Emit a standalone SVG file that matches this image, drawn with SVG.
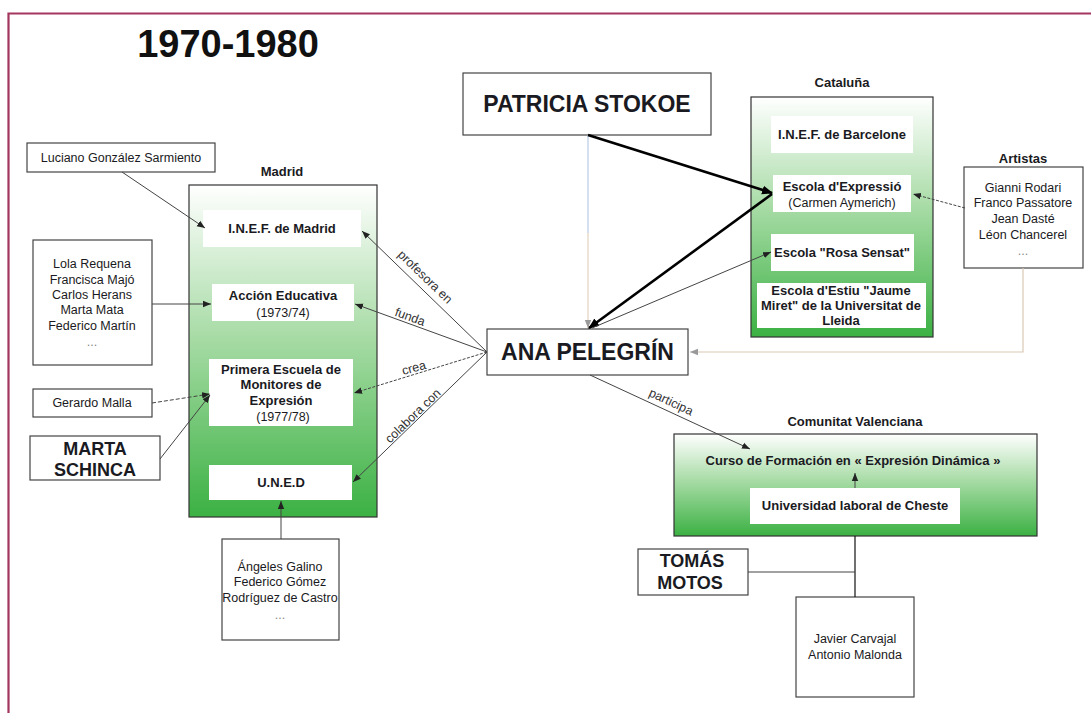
<svg xmlns="http://www.w3.org/2000/svg" width="1091" height="713" viewBox="0 0 1091 713">
<defs>
<linearGradient id="g" x1="0" y1="0" x2="0" y2="1">
<stop offset="0" stop-color="#ffffff"/>
<stop offset="0.45" stop-color="#a9dca7"/>
<stop offset="1" stop-color="#3bb143"/>
</linearGradient>
<marker id="a" viewBox="0 0 10 10" refX="10" refY="5" markerWidth="8" markerHeight="8" markerUnits="userSpaceOnUse" orient="auto">
<path d="M0,1 L10,5 L0,9 z" fill="#222"/>
</marker>
<marker id="al" viewBox="0 0 10 10" refX="10" refY="5" markerWidth="8" markerHeight="8" markerUnits="userSpaceOnUse" orient="auto">
<path d="M0,1 L10,5 L0,9 z" fill="#999"/>
</marker>
<marker id="ab" viewBox="0 0 10 10" refX="9" refY="5" markerWidth="11" markerHeight="11" markerUnits="userSpaceOnUse" orient="auto">
<path d="M0,1 L10,5 L0,9 z" fill="#000"/>
</marker>
</defs>
<style>
text{font-family:"Liberation Sans",Arial,sans-serif;fill:#1a1a22}
.n{font-size:12.5px;text-anchor:middle}
.b{font-size:13px;font-weight:bold;text-anchor:middle}
.big{font-size:23px;font-weight:bold;text-anchor:middle}
.mid{font-size:18px;font-weight:bold;text-anchor:middle}
.lbl{font-size:12.5px;text-anchor:middle;fill:#333}
.box{fill:#fff;stroke:#444;stroke-width:1.2}
.cont{fill:url(#g);stroke:#333;stroke-width:1.2}
.wb{fill:#fff}
.c{fill:none;stroke:#444;stroke-width:1}
</style>
<rect width="1091" height="713" fill="#fff"/>
<path d="M8.5,713 V13.5 H1091" fill="none" stroke="#a3365e" stroke-width="2.2"/>
<text x="228" y="57" style="font-size:38px;font-weight:bold;text-anchor:middle;fill:#111">1970-1980</text>

<g id="luciano"><rect class="box" x="27" y="143" width="188" height="29"/><text class="n" x="121" y="162">Luciano González Sarmiento</text></g>

<g id="madrid">
<text class="b" x="282" y="176">Madrid</text>
<rect class="cont" x="189" y="185" width="188" height="332"/>
</g>
<g id="inef-madrid"><rect class="wb" x="203" y="210" width="158" height="37"/><text class="b" x="282" y="233">I.N.E.F. de Madrid</text></g>
<g id="accion"><rect class="wb" x="212" y="284" width="142" height="37"/><text class="b" x="283" y="300">Acción Educativa</text><text class="n" x="283" y="317">(1973/74)</text></g>
<g id="primera"><rect class="wb" x="209" y="359" width="144" height="67"/><text class="b" x="281" y="374">Primera Escuela de</text><text class="b" x="281" y="389">Monitores de</text><text class="b" x="281" y="405">Expresión</text><text class="n" x="283" y="421">(1977/78)</text></g>
<g id="uned"><rect class="wb" x="209" y="465" width="143" height="35"/><text class="b" x="281" y="487">U.N.E.D</text></g>

<g id="lola"><rect class="box" x="33" y="240" width="119" height="125"/>
<text class="n" x="92" y="268">Lola Requena</text><text class="n" x="92" y="284">Francisca Majó</text><text class="n" x="92" y="299">Carlos Herans</text><text class="n" x="92" y="314">Marta Mata</text><text class="n" x="92" y="330">Federico Martín</text><text class="n" x="92" y="346" style="fill:#888">...</text></g>
<g id="gerardo"><rect class="box" x="33" y="389" width="119" height="28"/><text class="n" x="92" y="407">Gerardo Malla</text></g>
<g id="marta"><rect class="box" x="30" y="436" width="130" height="44"/><text class="mid" x="95" y="455">MARTA</text><text class="mid" x="95" y="476">SCHINCA</text></g>
<g id="angeles"><rect class="box" x="222" y="539" width="117" height="101"/>
<text class="n" x="280" y="571">Ángeles Galino</text><text class="n" x="280" y="586">Federico Gómez</text><text class="n" x="280" y="602">Rodríguez de Castro</text><text class="n" x="280" y="619" style="fill:#888">...</text></g>

<g id="patricia"><rect class="box" x="463" y="73" width="248" height="62"/><text class="big" x="587" y="112">PATRICIA STOKOE</text></g>
<g id="ana"><rect class="box" x="487" y="329" width="201" height="46"/><text class="big" x="587.5" y="360">ANA PELEGRÍN</text></g>

<g id="cataluna">
<text class="b" x="842" y="87">Cataluña</text>
<rect class="cont" x="751" y="97" width="182" height="240"/>
</g>
<g id="inef-bcn"><rect class="wb" x="771" y="116" width="142" height="37"/><text class="b" x="842" y="139">I.N.E.F. de Barcelone</text></g>
<g id="expressio"><rect class="wb" x="773" y="175" width="138" height="37"/><text class="b" x="842" y="191">Escola d'Expressió</text><text class="n" x="842" y="207">(Carmen Aymerich)</text></g>
<g id="rosa"><rect class="wb" x="771" y="234" width="143" height="37"/><text class="b" x="842" y="257">Escola "Rosa Sensat"</text></g>
<g id="estiu"><rect class="wb" x="757" y="283" width="169" height="45"/><text class="b" x="841" y="295">Escola d'Estiu "Jaume</text><text class="b" x="841" y="310">Miret" de la Universitat de</text><text class="b" x="841" y="325">Lleida</text></g>

<g id="artistas"><text class="b" x="1023" y="163">Artistas</text><rect class="box" x="964" y="167" width="119" height="101"/>
<text class="n" x="1023" y="192">Gianni Rodari</text><text class="n" x="1023" y="207">Franco Passatore</text><text class="n" x="1023" y="223">Jean Dasté</text><text class="n" x="1023" y="239">Léon Chancerel</text><text class="n" x="1023" y="255" style="fill:#888">...</text></g>

<g id="valenciana">
<text class="b" x="855" y="426">Comunitat Valenciana</text>
<rect class="cont" x="674" y="434" width="363" height="102"/>
<text class="b" x="853" y="465">Curso de Formación en « Expresión Dinámica »</text>
</g>
<g id="cheste"><rect class="wb" x="750" y="488" width="210" height="36"/><text class="b" x="855" y="510">Universidad laboral de Cheste</text></g>
<g id="tomas"><rect class="box" x="638" y="549" width="110" height="46"/><text class="mid" x="692" y="567">TOMÁS</text><text class="mid" x="690" y="589">MOTOS</text></g>
<g id="javier"><rect class="box" x="796" y="597" width="118" height="100"/><text class="n" x="855" y="643">Javier Carvajal</text><text class="n" x="855" y="659">Antonio Malonda</text></g>

<g id="connectors">
<line class="c" x1="122" y1="172" x2="205" y2="228" marker-end="url(#a)"/>
<line class="c" x1="152" y1="304" x2="211" y2="304" marker-end="url(#a)"/>
<line class="c" x1="152" y1="403" x2="210" y2="394" stroke-dasharray="4,2" marker-end="url(#a)"/>
<line class="c" x1="160" y1="459" x2="210" y2="395" marker-end="url(#a)"/>
<line class="c" x1="281" y1="539" x2="281" y2="501" marker-end="url(#a)"/>

<line class="c" x1="487" y1="352" x2="362" y2="231" marker-end="url(#a)"/>
<line class="c" x1="487" y1="352" x2="355" y2="304" marker-end="url(#a)"/>
<line class="c" x1="487" y1="352" x2="354" y2="393" stroke-dasharray="3,1.5" marker-end="url(#a)"/>
<line class="c" x1="487" y1="352" x2="353" y2="482" marker-end="url(#a)"/>
<text class="lbl" transform="translate(425,277) rotate(44)" y="4">profesora en</text>
<text class="lbl" transform="translate(410,317) rotate(20)" y="4">funda</text>
<text class="lbl" transform="translate(414,368) rotate(-15)" y="4">crea</text>
<text class="lbl" transform="translate(413,416) rotate(-44)" y="4">colabora con</text>

<line x1="588" y1="135" x2="588" y2="233" stroke="#b8cce4" stroke-width="1.2"/>
<line x1="588" y1="233" x2="588" y2="328" stroke="#e2d2be" stroke-width="1.2" marker-end="url(#al)"/>
<line x1="588" y1="135" x2="772" y2="193" stroke="#000" stroke-width="2.6" marker-end="url(#ab)"/>
<line x1="772" y1="194" x2="589" y2="328" stroke="#000" stroke-width="2.6" marker-end="url(#ab)"/>
<line class="c" x1="592" y1="328" x2="771" y2="252" marker-end="url(#a)"/>
<line class="c" x1="965" y1="208" x2="913" y2="194" stroke-dasharray="3,1.5" marker-end="url(#a)"/>
<polyline points="1023,268 1023,352 690,352" fill="none" stroke="#d9c8b4" stroke-width="1.2" marker-end="url(#al)"/>

<line class="c" x1="590" y1="375" x2="750" y2="449" marker-end="url(#a)"/>
<text class="lbl" transform="translate(671,402) rotate(25)" y="4">participa</text>
<line class="c" x1="855" y1="488" x2="855" y2="473" marker-end="url(#a)"/>
<line x1="855" y1="536" x2="855" y2="597" stroke="#111" stroke-width="1.2"/>
<line x1="748" y1="572" x2="855" y2="572" stroke="#444" stroke-width="1.2"/>
</g>
</svg>
